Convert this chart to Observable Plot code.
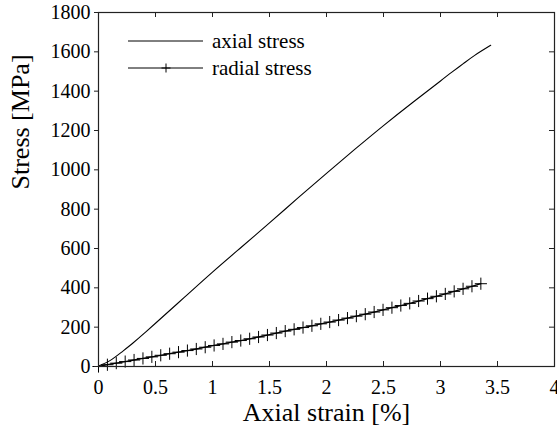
<!DOCTYPE html>
<html>
<head>
<meta charset="utf-8">
<script src="https://cdn.jsdelivr.net/npm/d3@7"></script>
<script src="https://cdn.jsdelivr.net/npm/@observablehq/plot@0.6"></script>
<style>
body { margin: 0; background: #fff; }
svg, svg text { font-family: "Liberation Serif", "DejaVu Serif", "Times New Roman", serif !important; }
</style>
</head>
<body>
<div id="chart"></div>
<script>
const xTicks = [0, 0.5, 1, 1.5, 2, 2.5, 3, 3.5, 4];
const yTicks = [0, 200, 400, 600, 800, 1000, 1200, 1400, 1600, 1800];

const axialStrain = [0, 0.1, 0.2, 0.3, 0.4, 0.5, 0.75, 1.0, 1.25, 1.5, 1.75, 2.0, 2.25, 2.5, 2.75, 3.0, 3.1, 3.2, 3.3, 3.44];
const axialStress = [3, 30, 72, 118, 168, 220, 350, 480, 605, 730, 857, 982, 1105, 1225, 1340, 1452, 1497, 1540, 1582, 1633];

const radialStrain = [0, 0.078, 0.156, 0.234, 0.312, 0.39, 0.468, 0.546, 0.624, 0.702, 0.78, 0.858, 0.936, 1.014, 1.092, 1.17, 1.248, 1.326, 1.404, 1.482, 1.56, 1.638, 1.716, 1.794, 1.872, 1.95, 2.028, 2.106, 2.184, 2.262, 2.34, 2.418, 2.496, 2.574, 2.652, 2.73, 2.808, 2.886, 2.964, 3.042, 3.12, 3.198, 3.276, 3.354];
const radialStress = [0, 9, 17, 25, 33, 41, 49, 57, 65, 73, 81, 89, 98, 107, 115, 124, 132, 141, 150, 160, 170, 180, 189, 198, 207, 217, 226, 236, 246, 256, 266, 277, 288, 299, 310, 321, 333, 345, 357, 369, 382, 395, 408, 421];

const seriesNames = ["axial stress", "radial stress"];

const axial = axialStrain.map((x, i) => ({x, y: axialStress[i]}));
const radial = radialStrain.map((x, i) => ({x, y: radialStress[i]}));

const W = 557, H = 435;
const mt = 12, mb = 69, ml = 98, mr = 3;
const font = "Liberation Serif, DejaVu Serif, serif";

const plot = Plot.plot({
  width: W, height: H,
  marginTop: mt, marginBottom: mb, marginLeft: ml, marginRight: mr,
  x: {domain: [0, 4]},
  y: {domain: [0, 1800]},
  style: {fontFamily: font, background: "#fff", color: "#000"},
  marks: [
    Plot.line(axial, {x: "x", y: "y", stroke: "#000", strokeWidth: 1.1, curve: "natural"}),
    Plot.line(radial, {x: "x", y: "y", stroke: "#000", strokeWidth: 1.3}),
    Plot.dot(radial, {x: "x", y: "y", symbol: "plus", r: 4, stroke: "#000", strokeWidth: 1}),
    // inward ticks bottom / top
    Plot.tickX(xTicks.slice(1, -1), {x: d => d, insetTop: H - mt - mb - 5, stroke: "#222"}),
    Plot.tickX(xTicks.slice(1, -1), {x: d => d, insetBottom: H - mt - mb - 5, stroke: "#222"}),
    // inward ticks right
    Plot.tickY(yTicks.slice(1, -1), {y: d => d, insetLeft: W - ml - mr - 5, stroke: "#222"}),
    Plot.frame({stroke: "#222", strokeWidth: 1.2}),
    Plot.axisX(xTicks, {anchor: "bottom", tickSize: 0, tickPadding: 13, fontSize: 20, tickFormat: d => String(d), label: null}),
    Plot.axisY(yTicks, {anchor: "left", tickSize: 4, tickPadding: 4, fontSize: 20, tickFormat: d => String(d), label: null, stroke: "#222"}),
    Plot.text(["Axial strain [%]"], {frameAnchor: "bottom", dy: 54, fontSize: 26}),
    Plot.text(["Stress [MPa]"], {frameAnchor: "left", dx: -78, rotate: -90, fontSize: 26})
  ]
});

document.getElementById("chart").appendChild(plot);

// legend
const svg = d3.select(plot);
const lg = svg.append("g").attr("font-size", 21).attr("text-anchor", "start");
const rows = [{y: 41, name: seriesNames[0], marker: false}, {y: 68, name: seriesNames[1], marker: true}];
rows.forEach(r => {
  lg.append("line").attr("x1", 128).attr("x2", 203).attr("y1", r.y).attr("y2", r.y).attr("stroke", "#000").attr("stroke-width", 1);
  if (r.marker) {
    lg.append("path").attr("d", `M166,${r.y - 4.5}V${r.y + 4.5}M161.5,${r.y}H170.5`).attr("stroke", "#000").attr("stroke-width", 1);
  }
  lg.append("text").attr("x", 212).attr("y", r.y).attr("dy", "0.35em").attr("fill", "#000").text(r.name);
});
</script>
</body>
</html>
